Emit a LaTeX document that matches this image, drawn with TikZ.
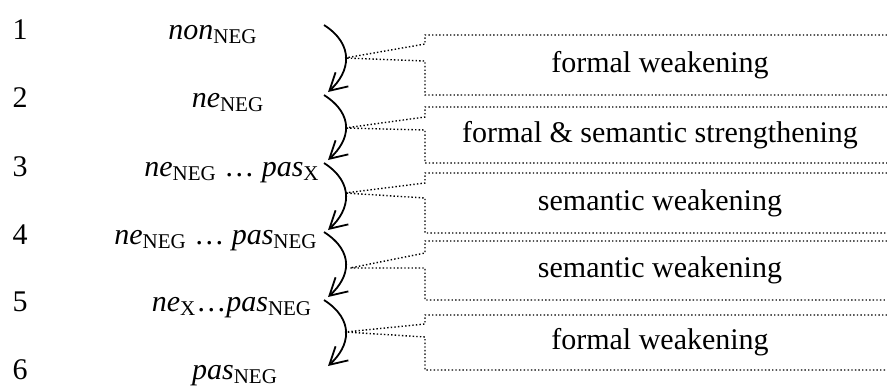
\documentclass[tikz,border=0pt]{standalone}
\usepackage{fontspec}
\setmainfont{Liberation Serif}
\usetikzlibrary{arrows.meta,positioning,calc}

\begin{document}
\begin{tikzpicture}[x=0.5pt,y=-0.5pt,
    every node/.style={font=\fontsize{15}{18}\selectfont, inner sep=0pt},
    form/.style={anchor=base},
    change/.style={-{Straight Barb[length=8.5pt,width=9.5pt]}, line width=0.9pt},
    callout/.style={line width=0.7pt, dash pattern=on 0.7pt off 1.1pt},
    kind/.style={anchor=center}]
    \useasboundingbox (0,0) rectangle (887,387);

    % Row numbers
    \foreach \i/\y in {1/39,2/107,3/176,4/244,5/311,6/379} \node[form] (n\i) at (20,\y) {\i};

    % Forms
    \node[form] (f1) at (213,39) {\textit{non}\textsubscript{NEG}};
    \node[form] (f2) at (228,107) {\textit{ne}\textsubscript{NEG}};
    \node[form] (f3) at (232,176) {\textit{ne}\textsubscript{NEG} \ldots\ \textit{pas}\textsubscript{X}};
    \node[form] (f4) at (216,244) {\textit{ne}\textsubscript{NEG} \ldots\ \textit{pas}\textsubscript{NEG}};
    \node[form] (f5) at (232,311) {\textit{ne}\textsubscript{X}\ldots\textit{pas}\textsubscript{NEG}};
    \node[form] (f6) at (235,379) {\textit{pas}\textsubscript{NEG}};

    % Curved arrows between rows
    \foreach \i/\ya/\yb in {1/25/92,2/95/160,3/163/230,4/232/297,5/300/366} {
        \coordinate (s\i) at (324,\ya);
        \coordinate (e\i) at (328,\yb);
        \draw[change] (s\i) .. controls +(31,20) and +(22,-20) .. (e\i);
    }

    % Callouts
    \foreach \i/\ya/\yb/\yu/\yl/\wx/\wy/\txt in {
        1/35/95/44/61/345/58/formal weakening,
        2/107/163/117/130/345/128/formal \& semantic strengthening,
        3/173/233/183/198/345/193/semantic weakening,
        4/241/300/253/268/350/268/semantic weakening,
        5/315/370/324/337/345/332/formal weakening} {
        \coordinate (w\i) at (\wx,\wy);
        \draw[callout] (887,\ya) -- (425,\ya) -- (425,\yu) -- (w\i) -- (425,\yl) -- (425,\yb) -- (887,\yb);
        \node[kind] (c\i) at (660,{(\ya+\yb)/2}) {\txt};
    }
\end{tikzpicture}
\end{document}
